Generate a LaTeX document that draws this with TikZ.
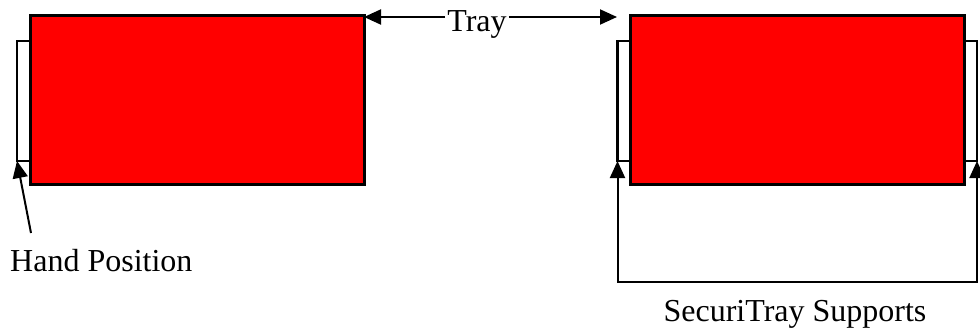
\documentclass[tikz,border=0pt]{standalone}
\usepackage{fontspec}
\setmainfont{Liberation Serif}
\usetikzlibrary{arrows.meta}
\begin{document}
\begin{tikzpicture}[x=1pt,y=-1pt,
  traybox/.style={draw=black,line width=3pt,fill=red,inner sep=0pt,outer sep=0pt,
    minimum width=334pt,minimum height=168pt,anchor=north west},
  holder/.style={draw=black,line width=2.4pt,fill=white,inner sep=0pt,outer sep=0pt,
    minimum width=13.5pt,minimum height=120pt},
  lbl/.style={inner sep=0pt,font=\fontsize{32}{36}\selectfont},
  pointer/.style={draw=black,line width=2pt,-{Triangle[length=17pt,width=15pt]}},
  twoway/.style={draw=black,line width=2pt,{Triangle[length=17pt,width=15pt]}-{Triangle[length=17pt,width=15pt]}}]
\useasboundingbox (0,0) rectangle (980,329);

% left tray with its hand position
\node[holder,anchor=north east] (supL) at (30.5,41) {};
\node[traybox] (trayL) at (30,16) {};

% right tray with two SecuriTray supports
\node[holder,anchor=north east] (supA) at (631,41) {};
\node[holder,anchor=north west] (supB) at (963.5,41) {};
\node[traybox] (trayR) at (630.5,16) {};

% tray width arrow
\node[lbl,anchor=base] (traylabel) at (477,32) {Tray};
\coordinate (arrowrow) at (0,17);
\draw[pointer] ([xshift=-2pt]traylabel.west |- arrowrow) -- (trayL.north east |- arrowrow);
\draw[pointer] ([xshift=2pt]traylabel.east |- arrowrow) -- (617,17);

% hand position
\node[lbl,anchor=base west] (handlabel) at (10,271) {Hand Position};
\coordinate (handtail) at (31,233);
\draw[pointer] (handtail) -- (supL.south west);

% support bracket
\coordinate (bl) at (supA.south west |- 0,282);
\coordinate (br) at (supB.south east |- 0,282);
\draw[twoway] (supA.south west) -- (bl) -- (br) -- (supB.south east);
\node[lbl,anchor=base] (supportlabel) at (795,321) {SecuriTray Supports};
\end{tikzpicture}
\end{document}
